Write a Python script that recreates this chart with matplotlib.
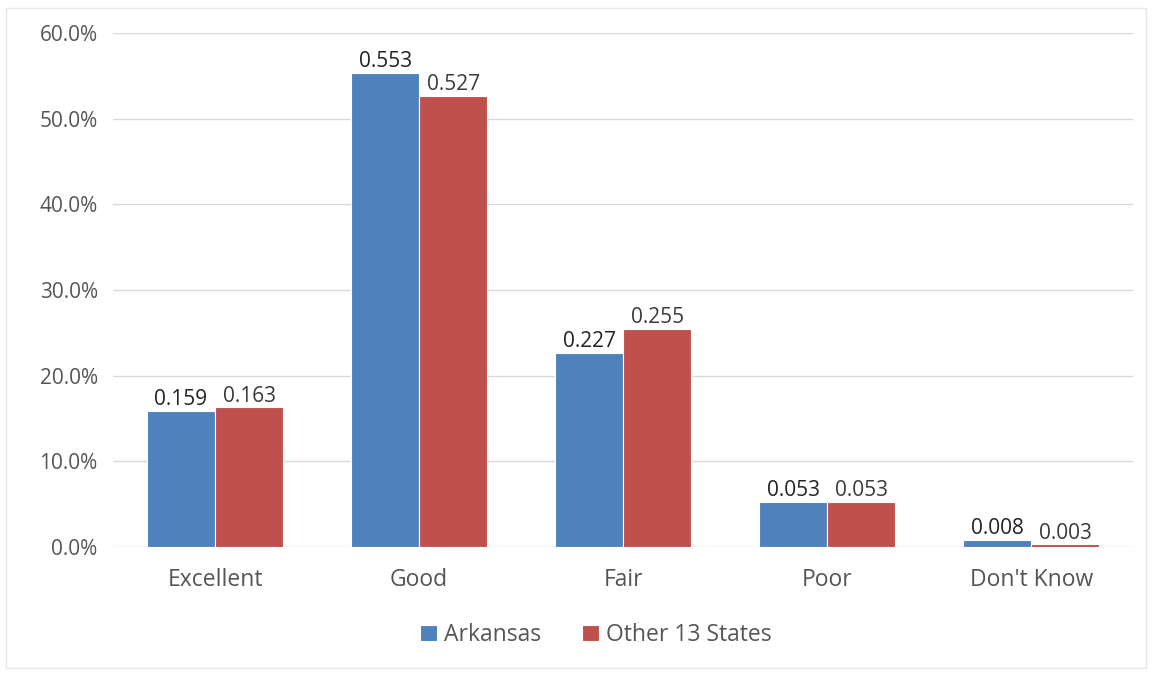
import matplotlib.pyplot as plt
import numpy as np
from matplotlib.patches import Rectangle
from matplotlib.ticker import FuncFormatter

plt.rcParams['font.family'] = ['Open Sans', 'DejaVu Sans']

categories = ["Excellent", "Good", "Fair", "Poor", "Don't Know"]
arkansas = [0.159, 0.553, 0.227, 0.053, 0.008]
other_states = [0.163, 0.527, 0.255, 0.053, 0.003]

blue = '#4F81BD'
red = '#C0504D'

fig = plt.figure(figsize=(11.53, 6.75), dpi=100)
ax = fig.add_axes([0.098, 0.1896, 0.885, 0.7615])

x = np.arange(len(categories))
w = 0.333
b1 = ax.bar(x - w / 2, arkansas, w, color=blue, edgecolor='white', linewidth=0.8,
            label='Arkansas', zorder=3)
b2 = ax.bar(x + w / 2, other_states, w, color=red, edgecolor='white', linewidth=0.8,
            label='Other 13 States', zorder=3)

for rect, v in zip(b1, arkansas):
    ax.text(rect.get_x() + rect.get_width() / 2, v + 0.001, f'{v:.3f}',
            ha='center', va='bottom', fontsize=15, color='#222222')
for rect, v in zip(b2, other_states):
    ax.text(rect.get_x() + rect.get_width() / 2, v + 0.001, f'{v:.3f}',
            ha='center', va='bottom', fontsize=15, color='#3a3a3a')

ax.set_xlim(-0.5, len(categories) - 0.5)
ax.set_ylim(0, 0.6)
ax.set_yticks(np.arange(0, 0.61, 0.1))
ax.yaxis.set_major_formatter(FuncFormatter(lambda v, p: f'{v * 100:.1f}%'))
ax.set_xticks(x)
ax.set_xticklabels(categories)
ax.tick_params(axis='both', length=0, colors='#555555')
ax.tick_params(axis='x', pad=15, labelsize=16.5)
ax.tick_params(axis='y', pad=11, labelsize=15)
ax.grid(axis='y', color='#d9d9d9', linewidth=1, zorder=0)
for s in ax.spines.values():
    s.set_visible(False)

leg = ax.legend(loc='center', bbox_to_anchor=(0.473, -0.171), ncol=2, frameon=False,
                fontsize=16.5, handlelength=0.75, handleheight=0.75, handletextpad=0.3,
                columnspacing=1.8)
for t in leg.get_texts():
    t.set_color('#555555')

fig.patches.append(Rectangle((0.005, 0.01), 0.989, 0.978, transform=fig.transFigure,
                             fill=False, edgecolor='#e6e6e6', linewidth=1))

fig.savefig('out.png', dpi=100)
